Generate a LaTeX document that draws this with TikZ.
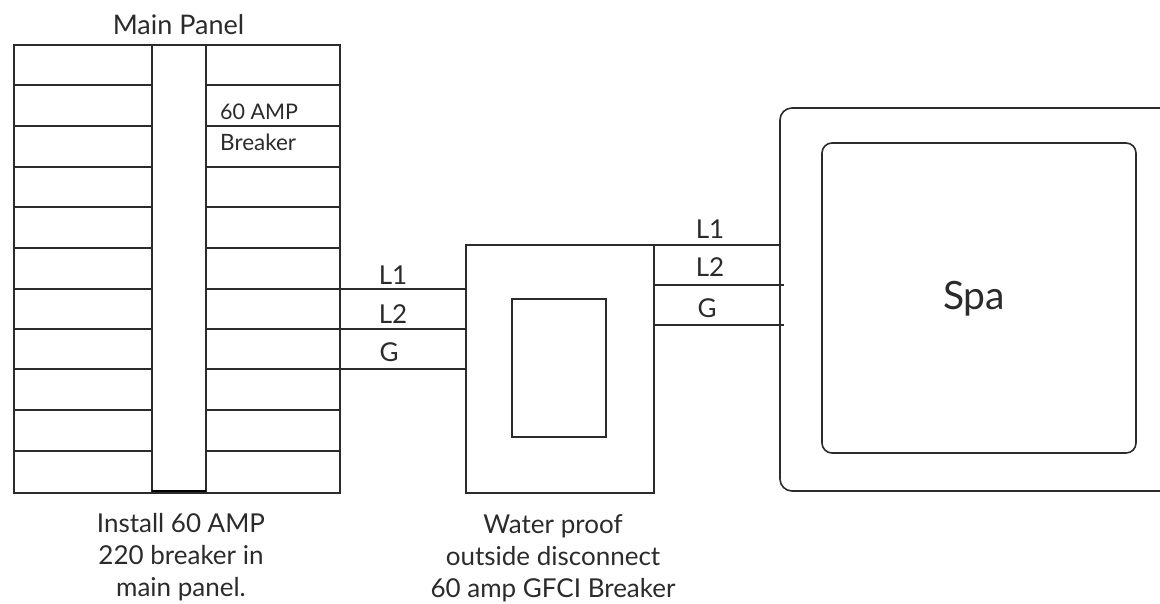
\documentclass[tikz,border=0pt]{standalone}
\usepackage{fontspec}
\setmainfont{Lato}
\definecolor{ink}{HTML}{2B2B2B}
\tikzset{
  wire/.style={draw=ink,line width=1.6pt},
  box/.style={draw=ink,line width=1.6pt},
  lab/.style={font=\fontsize{26pt}{31pt}\selectfont,text=ink,inner sep=0pt,align=center},
  small/.style={lab,font=\fontsize{21.5pt}{26pt}\selectfont},
  para/.style={lab,font=\fontsize{26pt}{32pt}\selectfont},
}
\begin{document}
\begin{tikzpicture}[x=1pt,y=-1pt]
\useasboundingbox (0,0) rectangle (1160,604);
% Main panel
\draw[box] (14,45) rectangle (340,493);
\foreach \y in {85,126,167,207,248,289,329,369,410,451}{
  \draw[wire] (14,\y) -- (340,\y);
}
\draw[box,fill=white] (152,45) rectangle (206,491);
\draw[black,line width=2.5pt] (152,491) -- (206,491);
\node[lab,font=\fontsize{27pt}{32pt}\selectfont] (pt) at (178.5,25) {Main Panel};
\node[small,anchor=west] (a1) at (220,112) {60 AMP};
\node[small,anchor=west,font=\fontsize{22.5pt}{27pt}\selectfont] (a2) at (220,142) {Breaker};
\node[para] (inst) at (181,557) {Install 60 AMP\\220 breaker in\\main panel.};
% disconnect
\draw[box] (466,245) rectangle (654,493);
\draw[box] (512,299) rectangle (606,437);
\coordinate (pl1) at (340,289); \coordinate (dl1) at (466,289);
\coordinate (pl2) at (340,329); \coordinate (dl2) at (466,329);
\coordinate (pg) at (340,369); \coordinate (dg) at (466,369);
\draw[wire] (pl1) -- (dl1);
\draw[wire] (pl2) -- (dl2);
\draw[wire] (pg) -- (dg);
\node[lab] at (393,275) {L1};
\node[lab] at (393,314) {L2};
\node[lab] at (389,352) {G};
\node[para] (wp) at (553,558) {Water proof\\outside disconnect\\60 amp GFCI Breaker};
% spa
\draw[box,rounded corners=12pt] (1165,108) -- (780,108) -- (780,491) -- (1165,491);
\draw[box,rounded corners=10pt] (822,143) rectangle (1136,453);
\coordinate (s1) at (780,245); \coordinate (e1) at (654,245);
\coordinate (s2) at (784,285); \coordinate (e2) at (654,285);
\coordinate (s3) at (784,325); \coordinate (e3) at (654,325);
\draw[wire] (e1) -- (s1);
\draw[wire] (e2) -- (s2);
\draw[wire] (e3) -- (s3);
\node[lab] at (710,229) {L1};
\node[lab] at (710,267) {L2};
\node[lab] at (707,308) {G};
\node[lab,font=\fontsize{39pt}{45pt}\selectfont] (spa) at (974,299) {Spa};
\end{tikzpicture}
\end{document}
